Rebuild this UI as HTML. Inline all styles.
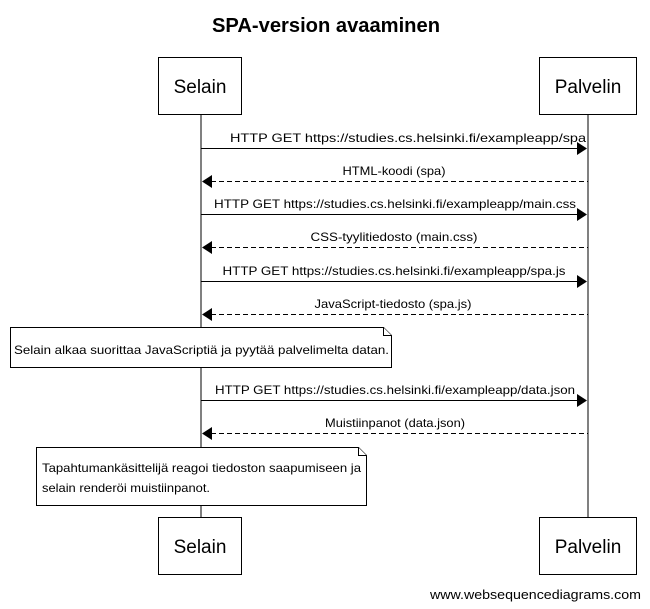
<!DOCTYPE html>
<html><head><meta charset="utf-8"><style>
html,body{margin:0;padding:0;background:#fff}
svg{display:block}
text{font-family:"Liberation Sans",Arial,sans-serif;fill:#000}
</style></head><body>
<svg width="650" height="609" viewBox="0 0 650 609" xmlns="http://www.w3.org/2000/svg">
<text x="326" y="32" text-anchor="middle" font-size="20" font-weight="bold" textLength="228" lengthAdjust="spacingAndGlyphs">SPA-version avaaminen</text>
<line x1="201" y1="114" x2="201" y2="518" stroke="#000"/>
<line x1="588" y1="114" x2="588" y2="518" stroke="#000"/>
<g fill="#fff" stroke="#000">
<rect x="158.5" y="57.5" width="83" height="57"/>
<rect x="539.5" y="57.5" width="97" height="57"/>
<rect x="158.5" y="517.5" width="83" height="57"/>
<rect x="539.5" y="517.5" width="97" height="57"/>
</g>
<g font-size="19" text-anchor="middle">
<text x="200" y="93">Selain</text>
<text x="588" y="93">Palvelin</text>
<text x="200" y="553">Selain</text>
<text x="588" y="553">Palvelin</text>
</g>
<g stroke="#000" fill="none">
<line x1="201" y1="148.5" x2="578" y2="148.5"/>
<line x1="211" y1="181.5" x2="588" y2="181.5" stroke-dasharray="5,3"/>
<line x1="201" y1="214.5" x2="578" y2="214.5"/>
<line x1="211" y1="247.5" x2="588" y2="247.5" stroke-dasharray="5,3"/>
<line x1="201" y1="281.5" x2="578" y2="281.5"/>
<line x1="211" y1="314.5" x2="588" y2="314.5" stroke-dasharray="5,3"/>
<line x1="201" y1="400.5" x2="578" y2="400.5"/>
<line x1="211" y1="433.5" x2="588" y2="433.5" stroke-dasharray="5,3"/>
</g>
<g fill="#000">
<polygon points="587,148.5 577,142 577,155"/>
<polygon points="202,181.5 212,175 212,188"/>
<polygon points="587,214.5 577,208 577,221"/>
<polygon points="202,247.5 212,241 212,254"/>
<polygon points="587,281.5 577,275 577,288"/>
<polygon points="202,314.5 212,308 212,321"/>
<polygon points="587,400.5 577,394 577,407"/>
<polygon points="202,433.5 212,427 212,440"/>
</g>
<g font-size="12" text-anchor="middle">
<text x="408" y="142" textLength="356" lengthAdjust="spacingAndGlyphs">HTTP GET https://studies.cs.helsinki.fi/exampleapp/spa</text>
<text x="394" y="175" textLength="103" lengthAdjust="spacingAndGlyphs">HTML-koodi (spa)</text>
<text x="395" y="208" textLength="362" lengthAdjust="spacingAndGlyphs">HTTP GET https://studies.cs.helsinki.fi/exampleapp/main.css</text>
<text x="394" y="241" textLength="167" lengthAdjust="spacingAndGlyphs">CSS-tyylitiedosto (main.css)</text>
<text x="394" y="275" textLength="343" lengthAdjust="spacingAndGlyphs">HTTP GET https://studies.cs.helsinki.fi/exampleapp/spa.js</text>
<text x="393" y="308" textLength="157" lengthAdjust="spacingAndGlyphs">JavaScript-tiedosto (spa.js)</text>
<text x="395" y="394" textLength="360" lengthAdjust="spacingAndGlyphs">HTTP GET https://studies.cs.helsinki.fi/exampleapp/data.json</text>
<text x="395" y="427" textLength="140" lengthAdjust="spacingAndGlyphs">Muistiinpanot (data.json)</text>
</g>
<g fill="#fff" stroke="#000">
<path d="M10.5,327.5 H383.5 L391.5,335.5 V367.5 H10.5 Z"/>
<path d="M383.5,327.5 V335.5 H391.5"/>
<path d="M36.5,447.5 H358.5 L366.5,455.5 V505.5 H36.5 Z"/>
<path d="M358.5,447.5 V455.5 H366.5"/>
</g>
<g font-size="12">
<text x="14" y="354" textLength="375" lengthAdjust="spacingAndGlyphs">Selain alkaa suorittaa JavaScriptiä ja pyytää palvelimelta datan.</text>
<text x="42" y="472" textLength="319" lengthAdjust="spacingAndGlyphs">Tapahtumankäsittelijä reagoi tiedoston saapumiseen ja</text>
<text x="42" y="492" textLength="168" lengthAdjust="spacingAndGlyphs">selain renderöi muistiinpanot.</text>
</g>
<text x="641" y="599" font-size="13" text-anchor="end" textLength="211" lengthAdjust="spacingAndGlyphs">www.websequencediagrams.com</text>
</svg>
</body></html>
